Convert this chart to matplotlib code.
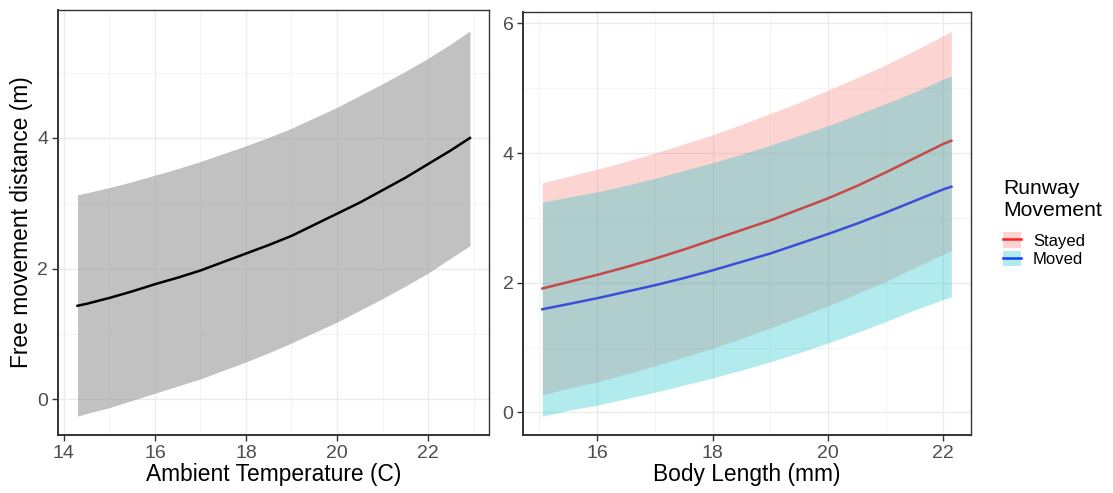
import numpy as np
import matplotlib
matplotlib.use("Agg")
import matplotlib.pyplot as plt
from matplotlib.patches import Patch
from matplotlib.lines import Line2D
from matplotlib.ticker import MultipleLocator

plt.rcParams["font.family"] = ["Liberation Sans", "DejaVu Sans"]

# Left panel: ambient temperature
temp = [14.3, 14.5, 15, 15.5, 16, 16.5, 17, 17.5, 18, 18.5, 19, 19.5,
        20, 20.5, 21, 21.5, 22, 22.5, 22.92]
temp_fit = [1.43, 1.46, 1.55, 1.65, 1.76, 1.86, 1.97, 2.10, 2.23, 2.36,
            2.50, 2.67, 2.84, 3.01, 3.20, 3.39, 3.60, 3.81, 4.00]
temp_hi = [3.13, 3.16, 3.24, 3.33, 3.43, 3.53, 3.64, 3.76, 3.88, 4.01,
           4.15, 4.31, 4.47, 4.65, 4.83, 5.02, 5.22, 5.44, 5.64]
temp_lo = [-0.26, -0.22, -0.13, -0.02, 0.09, 0.20, 0.31, 0.44, 0.57, 0.71,
           0.86, 1.02, 1.18, 1.36, 1.54, 1.73, 1.93, 2.16, 2.35]

# Right panel: body length by runway movement
body = [15.05, 15.5, 16, 16.5, 17, 17.5, 18, 18.5, 19, 19.5, 20, 20.5,
        21, 21.5, 22, 22.14]
stayed_fit = [1.91, 2.01, 2.12, 2.24, 2.37, 2.51, 2.66, 2.81, 2.96, 3.13,
              3.30, 3.49, 3.70, 3.92, 4.14, 4.19]
stayed_hi = [3.54, 3.64, 3.75, 3.87, 4.00, 4.14, 4.28, 4.44, 4.61, 4.78,
             4.97, 5.16, 5.36, 5.58, 5.81, 5.88]
stayed_lo = [0.27, 0.37, 0.47, 0.59, 0.72, 0.85, 0.99, 1.14, 1.30, 1.47,
             1.64, 1.83, 2.02, 2.23, 2.44, 2.49]
moved_fit = [1.59, 1.67, 1.76, 1.86, 1.96, 2.07, 2.19, 2.32, 2.45, 2.60,
             2.75, 2.91, 3.08, 3.26, 3.44, 3.48]
moved_hi = [3.24, 3.32, 3.40, 3.50, 3.61, 3.73, 3.85, 3.98, 4.12, 4.27,
            4.42, 4.59, 4.76, 4.94, 5.14, 5.19]
moved_lo = [-0.06, 0.03, 0.11, 0.21, 0.31, 0.42, 0.53, 0.65, 0.78, 0.92,
            1.07, 1.23, 1.40, 1.58, 1.74, 1.78]

groups = ["Stayed", "Moved"]
fill_cols = ["#F8766D", "#00BFC4"]
line_cols = ["#C84848", "#3A4FD8"]


def style_axes(ax):
    ax.set_facecolor("white")
    ax.xaxis.set_major_locator(MultipleLocator(2))
    ax.xaxis.set_minor_locator(MultipleLocator(1))
    ax.yaxis.set_major_locator(MultipleLocator(2))
    ax.yaxis.set_minor_locator(MultipleLocator(1))
    ax.grid(which="major", color="#EBEBEB", lw=1.0)
    ax.grid(which="minor", color="#F4F4F4", lw=0.7)
    ax.set_axisbelow(True)
    for s in ax.spines.values():
        s.set_color("#333333")
        s.set_linewidth(1.0)
    ax.spines["left"].set_linewidth(1.4)
    ax.spines["bottom"].set_linewidth(1.4)
    ax.tick_params(which="major", length=4, width=1, color="#333333",
                   labelsize=14, labelcolor="#4D4D4D", pad=3)
    ax.tick_params(which="minor", length=0)


fig = plt.figure(figsize=(11.13, 4.93), dpi=100)
ax1 = fig.add_axes([0.0521, 0.1176, 0.3873, 0.8621])
ax2 = fig.add_axes([0.4702, 0.1176, 0.4022, 0.8587])

style_axes(ax1)
ax1.fill_between(temp, temp_lo, temp_hi, color="#999999", alpha=0.6, lw=0)
ax1.plot(temp, temp_fit, color="black", lw=1.8)
ax1.set_xlim(13.87, 23.34)
ax1.set_ylim(-0.55, 5.96)
ax1.set_xlabel("Ambient Temperature (C)", fontsize=16.4, labelpad=1)
ax1.set_ylabel("Free movement distance (m)", fontsize=16.4, labelpad=3)

style_axes(ax2)
fits = [stayed_fit, moved_fit]
his = [stayed_hi, moved_hi]
los = [stayed_lo, moved_lo]
for i in range(2):
    ax2.fill_between(body, los[i], his[i], color=fill_cols[i], alpha=0.3, lw=0)
for i in range(2):
    ax2.plot(body, fits[i], color=line_cols[i], lw=1.8)
ax2.set_xlim(14.72, 22.48)
ax2.set_ylim(-0.35, 6.18)
ax2.set_xlabel("Body Length (mm)", fontsize=16.4, labelpad=1)

handles = []
for i in range(2):
    handles.append((Patch(facecolor=fill_cols[i], alpha=0.3, lw=0),
                    Line2D([], [], color=["#FF2020", "#1040FF"][i], lw=1.8)))
leg = fig.legend(handles, groups, title="Runway\nMovement",
                 loc="upper left", bbox_to_anchor=(0.9012, 0.637),
                 frameon=False, fontsize=12, title_fontsize=15.2,
                 handlelength=1.05, handleheight=1.05, handletextpad=0.75,
                 labelspacing=0.12, borderpad=0, borderaxespad=0)
leg._legend_box.align = "left"
leg._legend_box.sep = 9

fig.savefig("out.png", dpi=100)
